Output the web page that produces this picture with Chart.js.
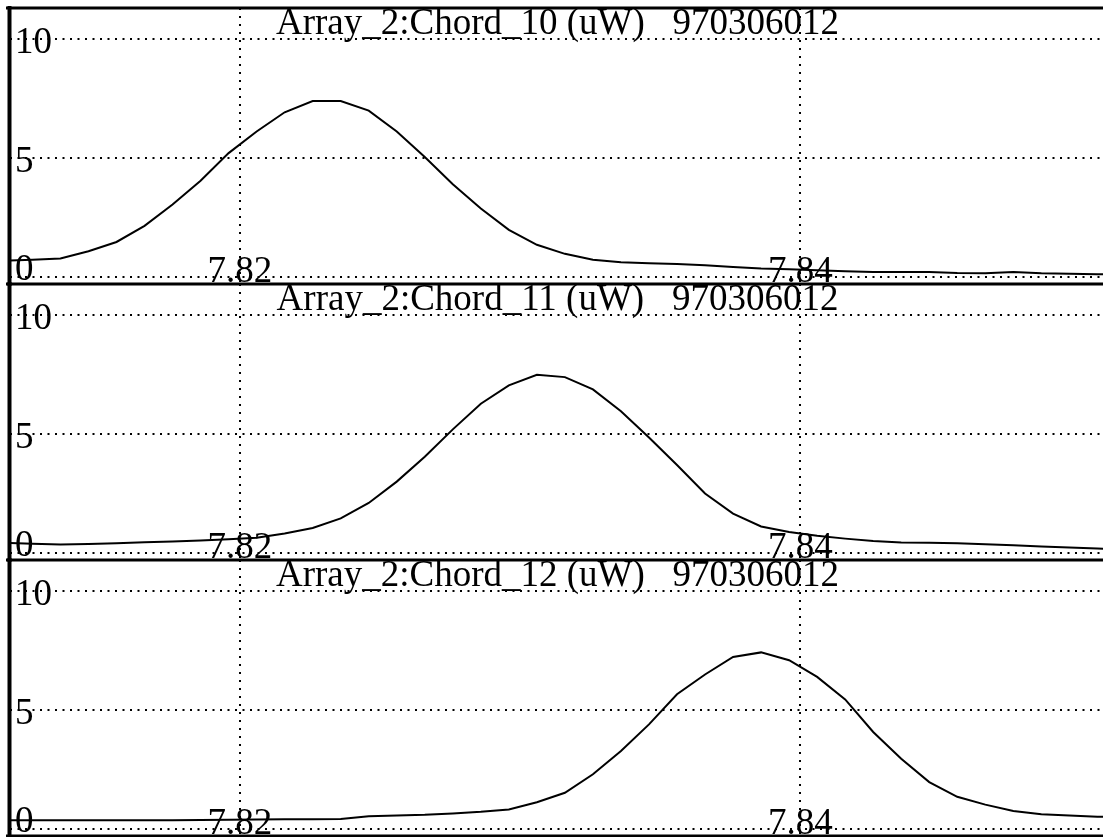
<!DOCTYPE html>
<html>
<head>
<meta charset="utf-8">
<script src="https://cdn.jsdelivr.net/npm/chart.js@4.4.0/dist/chart.umd.min.js"></script>
<style>
  html, body { margin: 0; padding: 0; background: #fff; overflow: hidden; }
  #wrap { position: relative; width: 1103px; height: 837px; overflow: hidden; }
  #wrap canvas { position: absolute; left: 0; }
</style>
</head>
<body>
<div id="wrap">
  <canvas id="c0" width="1103" height="288" style="top:0px"></canvas>
  <canvas id="c1" width="1103" height="284" style="top:280px"></canvas>
  <canvas id="c2" width="1103" height="281" style="top:556px"></canvas>
</div>
<script>
// time axis (s), one sample per ms
const times = [7.8116, 7.8126, 7.8136, 7.8146, 7.8156, 7.8166, 7.8176, 7.8186, 7.8196, 7.8206,
  7.8216, 7.8226, 7.8236, 7.8246, 7.8256, 7.8266, 7.8276, 7.8286, 7.8296, 7.8306,
  7.8316, 7.8326, 7.8336, 7.8346, 7.8356, 7.8366, 7.8376, 7.8386, 7.8396, 7.8406,
  7.8416, 7.8426, 7.8436, 7.8446, 7.8456, 7.8466, 7.8476, 7.8486, 7.8496, 7.8506, 7.8516];

const chord10 = [0.68, 0.72, 0.77, 1.08, 1.47, 2.15, 3.05, 4.05, 5.21, 6.12,
  6.93, 7.40, 7.40, 7.00, 6.12, 5.05, 3.90, 2.88, 1.98, 1.35,
  0.97, 0.72, 0.62, 0.57, 0.54, 0.49, 0.42, 0.35, 0.32, 0.28,
  0.24, 0.21, 0.21, 0.20, 0.16, 0.15, 0.21, 0.15, 0.13, 0.11, 0.10];

const chord11 = [0.42, 0.38, 0.35, 0.37, 0.40, 0.45, 0.48, 0.52, 0.57, 0.64,
  0.82, 1.05, 1.45, 2.10, 3.00, 4.05, 5.20, 6.28, 7.05, 7.50,
  7.40, 6.88, 5.96, 4.86, 3.70, 2.50, 1.65, 1.11, 0.88, 0.72,
  0.60, 0.50, 0.44, 0.43, 0.40, 0.36, 0.32, 0.27, 0.23, 0.18, 0.15];

const chord12 = [0.36, 0.36, 0.36, 0.36, 0.36, 0.36, 0.36, 0.37, 0.38, 0.39,
  0.40, 0.41, 0.42, 0.53, 0.56, 0.59, 0.65, 0.72, 0.82, 1.12,
  1.52, 2.30, 3.28, 4.40, 5.67, 6.50, 7.24, 7.43, 7.10, 6.40,
  5.45, 4.08, 2.95, 1.97, 1.35, 1.02, 0.75, 0.62, 0.56, 0.51, 0.50];

const titles = ['Array_2:Chord_10 (uW)', 'Array_2:Chord_11 (uW)', 'Array_2:Chord_12 (uW)'];
const shotNo = '970306012';
const xTicks = [7.82, 7.84];
const yTicks = [0, 5, 10];

const FONT = '37px "Liberation Serif", "Times New Roman", serif';

// thick frame lines + text labels drawn at the scales' own pixel positions
const panelDeco = {
  id: 'panelDeco',
  beforeDatasetsDraw(chart, args, opts) {
    const {ctx, chartArea: a, scales: {x, y}} = chart;
    ctx.save();
    ctx.fillStyle = '#000';
    ctx.font = FONT;
    ctx.textAlign = 'left';
    ctx.textBaseline = 'alphabetic';
    yTicks.forEach(v => {
      const py = y.getPixelForValue(v);
      ctx.fillText(String(v), a.left + 5, Math.min(py + 14, a.bottom - 4));
    });
    ctx.textAlign = 'center';
    xTicks.forEach(v => {
      ctx.fillText(v.toFixed(2), x.getPixelForValue(v), a.bottom - 2);
    });
    ctx.fillText(opts.title + '   ' + shotNo, (a.left + a.right) / 2 + 1, a.top + 26);
    ctx.restore();
  },
  afterDraw(chart, args, opts) {
    const {ctx, chartArea: a} = chart;
    ctx.save();
    ctx.strokeStyle = '#000';
    ctx.lineWidth = 3;
    ctx.beginPath();
    if (opts.first) { ctx.moveTo(a.left - 4, a.top); ctx.lineTo(a.right, a.top); }
    ctx.moveTo(a.left - 4, a.bottom);
    ctx.lineTo(a.right, a.bottom);
    ctx.stroke();
    ctx.lineWidth = 4;
    ctx.beginPath();
    ctx.moveTo(a.left - 0.5, a.top - 2);
    ctx.lineTo(a.left - 0.5, a.bottom + 2);
    ctx.stroke();
    ctx.restore();
  }
};

function makePanel(id, values, title, pad, first) {
  const ctx = document.getElementById(id).getContext('2d');
  new Chart(ctx, {
    type: 'line',
    data: {
      datasets: [{
        data: times.map((t, i) => ({x: t, y: values[i]})),
        borderColor: '#000',
        borderWidth: 2,
        pointRadius: 0,
        tension: 0,
        fill: false
      }]
    },
    options: {
      responsive: false,
      animation: false,
      layout: { padding: { left: 10, right: 0, top: pad[0], bottom: pad[1] } },
      plugins: {
        legend: { display: false },
        tooltip: { enabled: false },
        panelDeco: { title: title, first: first }
      },
      scales: {
        x: {
          type: 'linear',
          min: 7.8118,
          max: 7.8508,
          afterFit: s => { s.height = 0; },
          afterBuildTicks: s => { s.ticks = xTicks.map(v => ({value: v})); },
          ticks: { display: false },
          grid: { color: '#000', lineWidth: 2, drawTicks: false },
          border: { display: false, dash: [2, 6] }
        },
        y: {
          min: -0.3,
          max: 11.32,
          afterFit: s => { s.width = 0; },
          afterBuildTicks: s => { s.ticks = yTicks.map(v => ({value: v})); },
          ticks: { display: false },
          grid: { color: '#000', lineWidth: 2, drawTicks: false },
          border: { display: false, dash: [2, 5.5] }
        }
      }
    },
    plugins: [panelDeco]
  });
}

makePanel('c0', chord10, titles[0], [8, 4], true);
makePanel('c1', chord11, titles[1], [4, 4], false);
makePanel('c2', chord12, titles[2], [4, 1], false);
</script>
</body>
</html>
